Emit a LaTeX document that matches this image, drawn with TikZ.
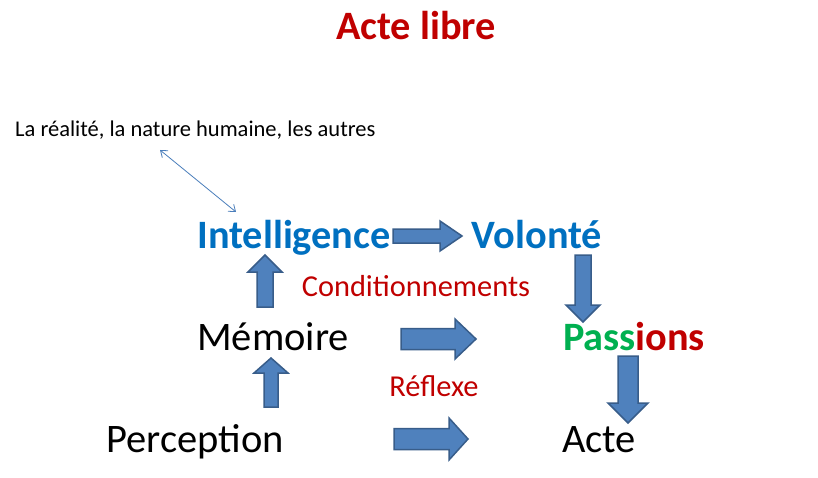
\documentclass[tikz,border=0pt]{standalone}
\usepackage{fontspec}
\setmainfont{Carlito}
\usetikzlibrary{arrows.meta}
\definecolor{titred}{HTML}{C00000}
\definecolor{intblue}{HTML}{0070C0}
\definecolor{pgreen}{HTML}{00B050}
\definecolor{arrfill}{HTML}{4F81BD}
\definecolor{arredge}{HTML}{385D8A}
\definecolor{thinblue}{HTML}{4A7EBB}
\tikzset{
  big/.style={font=\fontsize{40.5}{42}\selectfont, anchor=base, inner sep=0pt},
  bigb/.style={big, font=\fontsize{40.3}{42}\selectfont\bfseries},
  mid/.style={font=\fontsize{30.4}{32}\selectfont, anchor=base, inner sep=0pt, text=titred},
  small/.style={font=\fontsize{22.5}{24}\selectfont, anchor=base west, inner sep=0pt},
  blockarrow/.style={fill=arrfill, draw=arredge, line width=1.5pt, line join=miter},
}
% right arrow: x0, x1(head start), x2(tip), yc, shaft half, head half
\newcommand\rarr[6]{\filldraw[blockarrow] (#1,#4-#5) -- (#2,#4-#5) -- (#2,#4-#6) -- (#3,#4) -- (#2,#4+#6) -- (#2,#4+#5) -- (#1,#4+#5) -- cycle;}
% vertical arrow: xc, ystart(tail), yhead(base of head), ytip, shaft half, head half
\newcommand\varr[6]{\filldraw[blockarrow] (#1-#5,#2) -- (#1-#5,#3) -- (#1-#6,#3) -- (#1,#4) -- (#1+#6,#3) -- (#1+#5,#3) -- (#1+#5,#2) -- cycle;}
\begin{document}
\begin{tikzpicture}[x=1pt,y=-1pt]
\useasboundingbox[fill=white] (0,0) rectangle (818,478);
\node[bigb, text=titred] (title) at (416,40) {Acte libre};
\node[small] (real) at (15,137) {La réalité, la nature humaine, les autres};
\node[bigb, text=intblue] (intel) at (294,248) {Intelligence};
\node[bigb, text=intblue] (vol) at (537,248) {Volonté};
\node[mid] (cond) at (416,296) {Conditionnements};
\node[big] (mem) at (273,350) {Mémoire};
\node[bigb] (pass) at (634,350) {\textcolor{pgreen}{Pass}\textcolor{titred}{ions}};
\node[mid] (refl) at (434,396) {Réflexe};
\node[big] (perc) at (195,452) {Perception};
\node[big] (acte) at (599,452) {Acte};
\coordinate (t1) at (160,150);
\coordinate (t2) at (236,212);
\draw[thinblue, line width=0.8pt, {Straight Barb[length=6pt,width=9pt]}-{Straight Barb[length=6pt,width=9pt]}] (t1) -- (t2);
% horizontal block arrows
\rarr{393}{440}{462}{236}{7}{15}
\rarr{401}{455}{476}{339}{10.5}{20}
\rarr{394}{449}{468}{439}{10.5}{21}
% vertical block arrows
\varr{265}{307}{272}{255}{8}{17}
\varr{271}{407}{373}{358}{7}{17}
\varr{583}{255}{305}{322}{8}{17}
\varr{628}{356}{403}{423}{10}{20}
\end{tikzpicture}
\end{document}
